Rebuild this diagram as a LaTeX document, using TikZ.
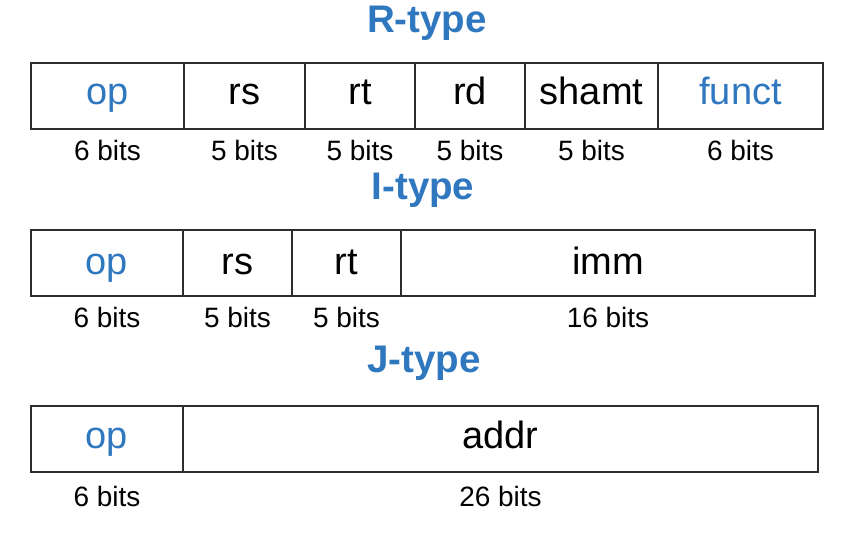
\documentclass[tikz,border=0pt]{standalone}
\usepackage{fontspec}
\setmainfont{Liberation Sans}
\definecolor{tblue}{RGB}{47,119,191}
\definecolor{edge}{RGB}{45,45,45}
\tikzset{
  fieldbox/.style={draw=edge, line width=1.6pt, inner sep=0pt, minimum height=66pt},
  fieldtext/.style={anchor=base, inner sep=0pt, font=\fontsize{38}{42}\selectfont},
  bitstext/.style={anchor=base, inner sep=0pt, font=\fontsize{28}{32}\selectfont},
  titletext/.style={anchor=base, inner sep=0pt, text=tblue, font=\bfseries\fontsize{38.5}{44}\selectfont},
}
% \fld{name}{x1}{x2}{ytop}{ybase}{text}{color}{bits}{bitsbase}
\newcommand{\fld}[9]{%
  \node[fieldbox, minimum width={#3-#2}] (#1) at ({(#2+#3)/2},{#4+33}) {};
  \node[fieldtext, text=#7] (#1t) at ({(#2+#3)/2},#5) {#6};
  \node[bitstext] (#1b) at ({(#2+#3)/2},#9) {#8};
}
\begin{document}
\begin{tikzpicture}[x=1pt,y=-1pt]
\useasboundingbox (0,0) rectangle (844,540);
% R-type
\node[titletext] (rtitle) at (427,33) {R-type};
\fld{rop}{31}{184}{63}{105}{op}{tblue}{6 bits}{161}
\fld{rrs}{184}{305}{63}{105}{rs}{black}{5 bits}{161}
\fld{rrt}{305}{415}{63}{105}{rt}{black}{5 bits}{161}
\fld{rrd}{415}{525}{63}{105}{rd}{black}{5 bits}{161}
\fld{rsh}{525}{658}{63}{105}{shamt}{black}{5 bits}{161}
\fld{rfn}{658}{823}{63}{105}{funct}{tblue}{6 bits}{161}
% I-type
\node[titletext] (ititle) at (423,200) {I-type};
\fld{iop}{31}{183}{230}{275}{op}{tblue}{6 bits}{327}
\fld{irs}{183}{292}{230}{275}{rs}{black}{5 bits}{327}
\fld{irt}{292}{401}{230}{275}{rt}{black}{5 bits}{327}
\fld{iim}{401}{815}{230}{275}{imm}{black}{16 bits}{327}
% J-type
\node[titletext] (jtitle) at (424,372) {J-type};
\fld{jop}{31}{183}{406}{448}{op}{tblue}{6 bits}{506}
\fld{jad}{183}{818}{406}{448}{addr}{black}{26 bits}{506}
\end{tikzpicture}
\end{document}
